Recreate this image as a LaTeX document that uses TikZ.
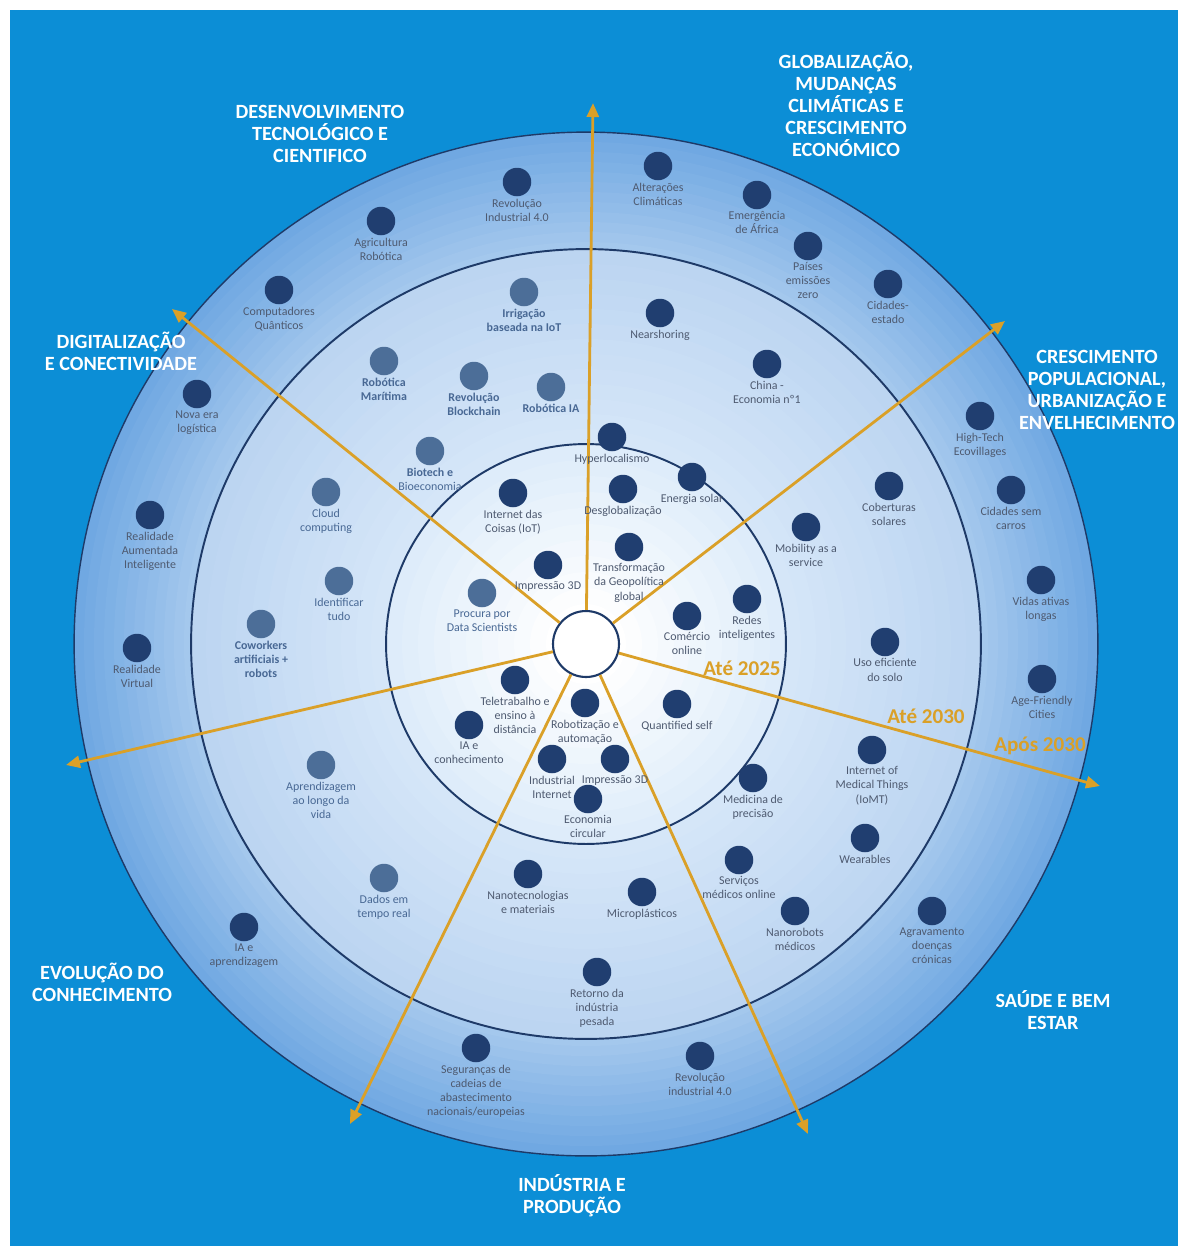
\documentclass[tikz,border=0pt]{standalone}
\usepackage{fontspec}
\setmainfont{Carlito}
\usetikzlibrary{arrows.meta,positioning}
\definecolor{bgblue}{RGB}{12,142,214}
\definecolor{navy}{RGB}{30,58,104}
\definecolor{dotdark}{RGB}{32,62,112}
\definecolor{dotlight}{RGB}{76,110,152}
\definecolor{txtdark}{RGB}{78,90,112}
\definecolor{txtlight}{RGB}{72,104,148}
\definecolor{gold}{RGB}{218,160,40}
\definecolor{ringA}{RGB}{222,236,250}
\definecolor{ringB}{RGB}{216,232,249}
\definecolor{ringC}{RGB}{188,213,241}
\definecolor{ringD}{RGB}{165,200,237}
\definecolor{ringE}{RGB}{112,168,226}
\tikzset{
  dot/.style={circle, fill=dotdark, minimum size=0.57cm, inner sep=0pt},
  dotl/.style={dot, fill=dotlight},
  lbl/.style={font=\fontsize{6.8}{8}\selectfont, text=txtdark, align=center, inner sep=1pt},
  lbll/.style={lbl, text=txtlight},
  lblb/.style={lbll, font=\bfseries\fontsize{6.8}{8}\selectfont},
  sector/.style={font=\bfseries\fontsize{11.5}{12.5}\selectfont, text=white, align=center},
  year/.style={font=\bfseries\fontsize{12}{13}\selectfont, text=gold},
  ray/.style={gold, line width=1.6pt, -{Triangle[length=0.28cm,width=0.24cm]}},
  border/.style={circle, draw=navy, line width=1.1pt, inner sep=0pt},
}

\begin{document}
\begin{tikzpicture}[x=0.02cm, y=-0.02cm]
\useasboundingbox (0,0) rectangle (1189,1249);
\fill[bgblue] (10,10) rectangle (1178,1246);
\coordinate (ctr) at (586,644);

% ring shading, outside in
\foreach \i in {0,...,11} {
  \pgfmathsetmacro\r{512-\i*10}
  \pgfmathtruncatemacro\p{100-\i*9}
  \fill[ringE!\p!ringD] (ctr) circle[radius=\r*0.02cm];
}
\foreach \i in {0,...,13} {
  \pgfmathsetmacro\r{395-\i*15}
  \pgfmathtruncatemacro\p{100-\i*7.5}
  \fill[ringC!\p!ringB] (ctr) circle[radius=\r*0.02cm];
}
\foreach \i in {0,...,10} {
  \pgfmathsetmacro\r{200-\i*16}
  \pgfmathtruncatemacro\p{100-\i*10}
  \fill[ringA!\p!white] (ctr) circle[radius=\r*0.02cm];
}

% rings
\node[border, line width=0.8pt, minimum size=20.48cm] (outer) at (ctr) {};
\node[border, minimum size=15.8cm] (middle) at (ctr) {};
\node[border, minimum size=8cm] (inner) at (ctr) {};
\node[border, fill=white, line width=1.2pt, minimum size=1.32cm] (hub) at (ctr) {};

% rays
\coordinate (tipN) at (593,103);
\coordinate (tipNE) at (1005,321);
\coordinate (tipE) at (1100,786);
\coordinate (tipSE) at (808,1134);
\coordinate (tipSW) at (350,1124);
\coordinate (tipW) at (66,765);
\coordinate (tipNW) at (172,309);
\foreach \t in {N,NE,E,SE,SW,W,NW}
  \draw[ray] (hub) -- (tip\t);

% outer ring
\node[dot] (revind) at (517,182) [label={[lbl]below:{Revolução\\Industrial 4.0}}] {};
\node[dot] (agrirob) at (381,221) [label={[lbl]below:{Agricultura\\Robótica}}] {};
\node[dot] (quant) at (279,290) [label={[lbl]below:{Computadores\\Quânticos}}] {};
\node[dot] (logist) at (197,394) [label={[lbl]below:{Nova era\\logística}}] {};
\node[dot] (realaum) at (150,515) [label={[lbl]below:{Realidade\\Aumentada\\Inteligente}}] {};
\node[dot] (realvirt) at (137,648) [label={[lbl]below:{Realidade\\Virtual}}] {};
\node[dot] (iaaprend) at (244,927) [label={[lbl]below:{IA e\\aprendizagem}}] {};
\node[dot] (seguranca) at (476,1048) [label={[lbl]below:{Seguranças de\\cadeias de\\abastecimento\\nacionais/europeias}}] {};
\node[dot] (revind2) at (700,1056) [label={[lbl]below:{Revolução\\industrial 4.0}}] {};
\node[dot] (agravam) at (932,911) [label={[lbl]below:{Agravamento\\doenças\\crónicas}}] {};
\node[dot] (agefr) at (1042,679) [label={[lbl]below:{Age-Friendly\\Cities}}] {};
\node[dot] (vidas) at (1041,580) [label={[lbl]below:{Vidas ativas\\longas}}] {};
\node[dot] (semcarros) at (1011,490) [label={[lbl]below:{Cidades sem\\carros}}] {};
\node[dot] (ecovil) at (980,416) [label={[lbl]below:{High-Tech\\Ecovillages}}] {};
\node[dot] (cidest) at (888,284) [label={[lbl]below:{Cidades-\\estado}}] {};
\node[dot] (emissoes) at (808,246) [label={[lbl]below:{Países\\emissões\\zero}}] {};
\node[dot] (africa) at (757,195) [label={[lbl]below:{Emergência\\de África}}] {};
\node[dot] (clima) at (658,166) [label={[lbl]below:{Alterações\\Climáticas}}] {};

% middle ring
\node[dotl] (irrig) at (524,292) [label={[lblb]below:{Irrigação\\baseada na IoT}}] {};
\node[dotl] (robmar) at (384,361) [label={[lblb]below:{Robótica\\Marítima}}] {};
\node[dotl] (blockch) at (474,376) [label={[lblb]below:{Revolução\\Blockchain}}] {};
\node[dotl] (robia) at (551,387) [label={[lblb]below:{Robótica IA}}] {};
\node[dotl] (biotech) at (430,451) [label={[lbll]below:{\bfseries Biotech e\\Bioeconomia}}] {};
\node[dotl] (cloud) at (326,492) [label={[lbll]below:{Cloud\\computing}}] {};
\node[dotl] (identif) at (339,581) [label={[lbll]below:{Identificar\\tudo}}] {};
\node[dotl] (cowork) at (261,624) [label={[lblb]below:{Coworkers\\artificiais +\\robots}}] {};
\node[dotl] (aprend) at (321,765) [label={[lbll]below:{Aprendizagem\\ao longo da\\vida}}] {};
\node[dotl] (dados) at (384,878) [label={[lbll]below:{Dados em\\tempo real}}] {};
\node[dot] (nearsh) at (660,313) [label={[lbl]below:{Nearshoring}}] {};
\node[dot] (china) at (767,364) [label={[lbl]below:{China -\\Economia nº1}}] {};
\node[dot] (cobert) at (889,486) [label={[lbl]below:{Coberturas\\solares}}] {};
\node[dot] (mobil) at (806,527) [label={[lbl]below:{Mobility as a\\service}}] {};
\node[dot] (solo) at (885,642) [label={[lbl]below:{Uso eficiente\\do solo}}] {};
\node[dot] (iomt) at (872,750) [label={[lbl]below:{Internet of\\Medical Things\\(IoMT)}}] {};
\node[dot] (medprec) at (753,778) [label={[lbl]below:{Medicina de\\precisão}}] {};
\node[dot] (wear) at (865,838) [label={[lbl]below:{Wearables}}] {};
\node[dot] (servmed) at (739,860) [label={[lbl]below:{Serviços\\médicos online}}] {};
\node[dot] (nanorob) at (795,911) [label={[lbl]below:{Nanorobots\\médicos}}] {};
\node[dot] (nanotec) at (528,874) [label={[lbl]below:{Nanotecnologias\\e materiais}}] {};
\node[dot] (micropl) at (642,892) [label={[lbl]below:{Microplásticos}}] {};
\node[dot] (retorno) at (597,972) [label={[lbl]below:{Retorno da\\indústria\\pesada}}] {};

% inner ring
\node[dot] (hyper) at (612,437) [label={[lbl]below:{Hyperlocalismo}}] {};
\node[dot] (energia) at (692,477) [label={[lbl]below:{Energia solar}}] {};
\node[dot] (desglob) at (623,489) [label={[lbl]below:{Desglobalização}}] {};
\node[dot] (iot) at (513,493) [label={[lbl]below:{Internet das\\Coisas (IoT)}}] {};
\node[dot] (geopol) at (629,547) [label={[lbl]below:{Transformação\\da Geopolítica\\global}}] {};
\node[dot] (impr3d) at (548,565) [label={[lbl]below:{Impressão 3D}}] {};
\node[dotl] (datasci) at (482,593) [label={[lbll]below:{Procura por\\Data Scientists}}] {};
\node[dot] (comercio) at (687,616) [label={[lbl]below:{Comércio\\online}}] {};
\node[dot] (redes) at (747,599) [label={[lbl]below:{Redes\\inteligentes}}] {};
\node[dot] (teletrab) at (515,680) [label={[lbl]below:{Teletrabalho e\\ensino à\\distância}}] {};
\node[dot] (iaconh) at (469,725) [label={[lbl]below:{IA e\\conhecimento}}] {};
\node[dot] (robotiz) at (585,703) [label={[lbl]below:{Robotização e\\automação}}] {};
\node[dot] (quantself) at (677,704) [label={[lbl]below:{Quantified self}}] {};
\node[dot] (indint) at (552,759) [label={[lbl]below:{Industrial\\Internet}}] {};
\node[dot] (impr3db) at (615,759) [label={[lbl]below:{Impressão 3D}}] {};
\node[dot] (econcirc) at (588,799) [label={[lbl]below:{Economia\\circular}}] {};

% sectors
\node[sector] (tDesenv) at (320,134) {DESENVOLVIMENTO\\TECNOLÓGICO E\\CIENTIFICO};
\node[sector] (tGlobal) at (846,104) {GLOBALIZAÇÃO,\\MUDANÇAS\\CLIMÁTICAS E\\CRESCIMENTO\\ECONÓMICO};
\node[sector] (tPopul) at (1097,390) {CRESCIMENTO\\POPULACIONAL,\\URBANIZAÇÃO E\\ENVELHECIMENTO};
\node[sector] (tDigital) at (121,351) {DIGITALIZAÇÃO\\E CONECTIVIDADE};
\node[sector] (tEvol) at (102,982) {EVOLUÇÃO DO\\CONHECIMENTO};
\node[sector] (tSaude) at (1053,1010) {SAÚDE E BEM\\ESTAR};
\node[sector] (tIndust) at (572,1196) {INDÚSTRIA E\\PRODUÇÃO};

% horizons
\node[year] (y2025) at (742,668) {Até 2025};
\node[year] (y2030) at (926,716) {Até 2030};
\node[year] (yApos) at (1040,746) {Após 2030};

\end{tikzpicture}
\end{document}
